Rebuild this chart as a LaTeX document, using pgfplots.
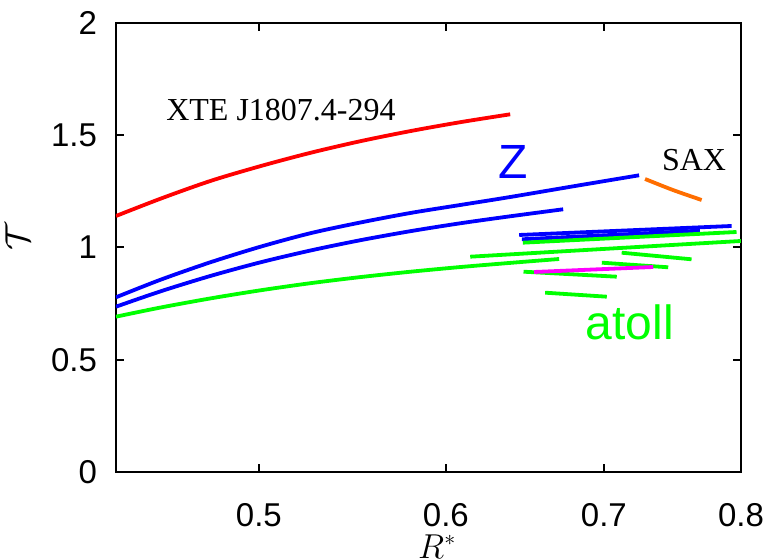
\documentclass[border=0pt]{standalone}
\usepackage{pgfplots}
\pgfplotsset{compat=1.18}
\usepackage{fontspec}
\setmainfont{Liberation Sans}
\newfontfamily\serif{Liberation Serif}
\definecolor{cred}{RGB}{255,0,0}
\definecolor{cblue}{RGB}{0,0,255}
\definecolor{cgreen}{RGB}{0,255,0}
\definecolor{corange}{RGB}{255,110,0}
\definecolor{cmag}{RGB}{255,0,255}
\begin{document}
\begin{tikzpicture}
\begin{axis}[
    scale only axis,
    width=312.5pt, height=224.5pt,
    xmode=log,
    xmin=0.435, xmax=0.8,
    ymin=0, ymax=2,
    xtick={0.5,0.6,0.7,0.8},
    xticklabels={0.5,0.6,0.7,0.8},
    xminorticks=false,
    ytick={0,0.5,1,1.5,2},
    yticklabels={0,0.5,1,1.5,2},
    tick align=inside,
    major tick length=4pt,
    axis line style={line width=1.3pt},
    tick style={line width=1pt, black},
    ticklabel style={font=\fontsize{16.5}{18}\selectfont},
    xticklabel style={yshift=-12pt},
    yticklabel style={xshift=-6pt},
    xlabel={$R^*$},
    ylabel={$\mathcal{T}$},
    xlabel style={at={(axis description cs:0.514,-0.166)}, anchor=center, inner sep=0pt, font=\fontsize{16}{18}\selectfont},
    ylabel style={at={(axis description cs:-0.158,0.523)}, anchor=center, inner sep=0pt, font=\fontsize{16}{18}\selectfont},
    every axis plot/.append style={line width=1.9pt, no marks},
]
% XTE J1807.4-294
\addplot[cred, smooth] coordinates {
(0.435,1.1403) (0.45436,1.2176) (0.47704,1.2967) (0.50084,1.3626)
(0.52584,1.4218) (0.55206,1.4735) (0.57960,1.5185) (0.60851,1.5581)
(0.63887,1.5933)
};
% Z sources
\addplot[cblue, smooth] coordinates {
(0.435,0.7782) (0.45436,0.8566) (0.47704,0.9345) (0.50084,1.0036)
(0.52584,1.0637) (0.55206,1.1114) (0.57960,1.1537) (0.60851,1.1893)
(0.63887,1.2249) (0.68061,1.2739) (0.72437,1.3216)
};
\addplot[cblue, smooth] coordinates {
(0.435,0.7363) (0.45436,0.8049) (0.47704,0.8735) (0.50084,0.9341)
(0.52584,0.9866) (0.55206,1.0325) (0.57960,1.0726) (0.60851,1.1078)
(0.63887,1.1390) (0.67271,1.1702)
};
\addplot[cblue] coordinates {(0.64450,1.0557) (0.79279,1.0958)};
\addplot[cblue] coordinates {(0.64619,1.0365) (0.76870,1.0748)};
% SAX
\addplot[corange, smooth] coordinates {(0.72862,1.3051) (0.74875,1.2561) (0.76997,1.2116)};
% atoll sources
\addplot[cgreen, smooth] coordinates {
(0.435,0.6918) (0.45436,0.7327) (0.47704,0.7733) (0.50084,0.8094)
(0.52584,0.8410) (0.55206,0.8682) (0.57960,0.8920) (0.60851,0.9129)
(0.63887,0.9314) (0.67009,0.9488)
};
\addplot[cgreen] coordinates {(0.64682,1.0214) (0.79666,1.0690)};
\addplot[cgreen] coordinates {(0.61446,0.9590) (0.8,1.0290)};
\addplot[cgreen] coordinates {(0.71227,0.9768) (0.76250,0.9474)};
\addplot[cgreen] coordinates {(0.69854,0.9323) (0.74534,0.9118)};
\addplot[cgreen] coordinates {(0.64721,0.8922) (0.70881,0.8699)};
\addplot[cgreen] coordinates {(0.66102,0.7987) (0.70194,0.7808)};
\addplot[cmag] coordinates {(0.65398,0.8909) (0.73453,0.9131)};

\node[font=\serif\fontsize{16}{18}\selectfont] at (rel axis cs:0.264,0.806) {XTE J1807.4-294};
\node[font=\serif\fontsize{16}{18}\selectfont] at (rel axis cs:0.925,0.695) {SAX};
\node[font=\fontsize{24}{28}\selectfont, text=cblue] at (rel axis cs:0.635,0.690) {Z};
\node[font=\fontsize{24}{28}\selectfont, text=cgreen] at (rel axis cs:0.822,0.334) {atoll};

\coordinate (sw) at (rel axis cs:0,0);
\coordinate (ne) at (rel axis cs:1,1);
\end{axis}
\pgfresetboundingbox
\path[use as bounding box] ([xshift=-58pt,yshift=-44pt]sw) rectangle ([xshift=15.5pt,yshift=11.5pt]ne);
\end{tikzpicture}
\end{document}
